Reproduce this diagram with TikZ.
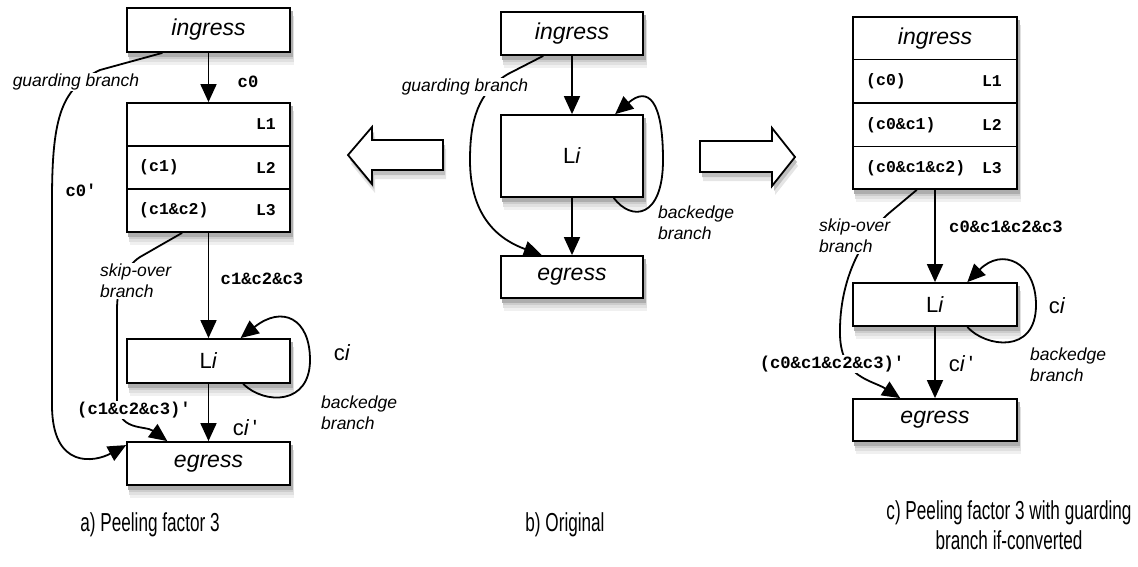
\documentclass[tikz,border=0pt]{standalone}
\usepackage{fontspec}
\setmainfont{Liberation Sans}
\setmonofont{Liberation Mono}
\newfontfamily\plainsf{Liberation Sans}
\newfontfamily\capfont[FakeStretch=0.66]{Liberation Sans}
\usetikzlibrary{arrows.meta,calc,backgrounds}
% layered grey rectangles under a node, offset down and to the right
\newcommand\dropshade[1]{%
  \fill[black!6]  ($(#1.north west)+(3.5,12)$) rectangle ($(#1.south east)+(3.5,12)$);
  \fill[black!12] ($(#1.north west)+(3,9)$)    rectangle ($(#1.south east)+(3,9)$);
  \fill[black!20] ($(#1.north west)+(2.5,6.5)$) rectangle ($(#1.south east)+(2.5,6.5)$);
  \fill[black!32] ($(#1.north west)+(2,4)$)    rectangle ($(#1.south east)+(2,4)$);}
% outline of the left-pointing hollow arrow
\newcommand\leftarrowshape{(348,155) -- (372,127) -- (372,140) -- (443,140) -- (443,170) -- (372,170) -- (372,184) -- cycle}
\newcommand\rightarrowshape{(795,157) -- (772,128) -- (772,141) -- (700,141) -- (700,172) -- (772,172) -- (772,186) -- cycle}
\begin{document}
\begin{tikzpicture}[x=1pt,y=-1pt,
  blk/.style={draw,line width=1.8pt,fill=white,inner sep=0pt},
  big/.style={font=\fontsize{23}{26}\selectfont\itshape},
  li/.style={font=\fontsize{22}{26}\selectfont},
  code/.style={font=\fontsize{17.2}{19}\selectfont\ttfamily\bfseries,inner sep=1pt},
  rowcode/.style={font=\fontsize{16.5}{19}\selectfont\ttfamily\bfseries,inner sep=0pt},
  note/.style={font=\fontsize{17.5}{21}\selectfont\itshape,align=left,inner sep=1pt},
  flow/.style={line width=1.8pt,-{Triangle[length=18pt,width=16pt]}},
  caption text/.style={font=\fontsize{26}{30}\selectfont\capfont,align=center},
  hollow/.style={draw,line width=1.8pt,fill=white,line join=miter},
  divider/.style={line width=1.8pt}
]
\useasboundingbox (0,0) rectangle (1138,566);

% ---------- a) peeling factor 3 ----------
\node[blk,minimum width=163pt,minimum height=44pt,big] (ingA) at (208.5,30) {ingress};
\node[blk,minimum width=163pt,minimum height=129pt] (stackA) at (208.5,167.5) {};
\draw[divider] ($(stackA.north west)!1/3!(stackA.south west)$) -- ($(stackA.north east)!1/3!(stackA.south east)$);
\draw[divider] ($(stackA.north west)!2/3!(stackA.south west)$) -- ($(stackA.north east)!2/3!(stackA.south east)$);
\node[rowcode,anchor=east] (a1) at (276,124.5) {L1};
\node[rowcode,anchor=east] (a2) at (276,167.5) {L2};
\node[rowcode,anchor=east] (a3) at (276,210.5) {L3};
\node[rowcode,anchor=west] (a2c) at (139,167.5) {(c1)};
\node[rowcode,anchor=west] (a3c) at (139,210.5) {(c1\&c2)};
\node[blk,minimum width=163pt,minimum height=44pt,li] (LA) at (208.5,361) {L\textit{i}};
\node[blk,minimum width=163pt,minimum height=43pt,big] (egA) at (208.5,463.5) {egress};

\draw[flow] (ingA) -- (stackA);
\node[code] (c0A) at (248,82) {c0};
\draw[flow] (stackA) -- (LA);
\node[code] (c123A) at (262,279) {c1\&c2\&c3};
\draw[flow] (LA) -- (egA);
\node[li] (cipA) at (245,428) {c\textit{i}\,{\plainsf'}};

% backedge loop
\draw[flow] ($(LA.south)!0.42!(LA.south east)$) .. controls (265,405) and (310,405) .. (310,360)
  .. controls (310,318) and (282,305) .. ($(LA.north)!0.39!(LA.north east)$);
\node[li] (ciA) at (342,353) {c\textit{i}};
\node[note,anchor=west] (beA) at (320,413) {backedge\\branch};

% guarding branch
\draw[flow] ($(ingA.south west)!0.22!(ingA.south east)$) -- (100,70) .. controls (62,88) and (52,115) .. (52,200)
  -- (52,405) .. controls (52,470) and (95,462) .. ($(egA.north west)+(0,4)$);
\node[note,fill=white] (gA) at (76,82) {guarding branch};
\node[code] (c0pA) at (81,190) {c0'};

% skip-over branch
\draw[flow] ($(stackA.south west)!0.34!(stackA.south east)$) -- (140,257) .. controls (125,267) and (117,285) .. (117,310)
  -- (117,400) .. controls (117,432) and (145,425) .. ($(egA.north west)!0.25!(egA.north east)$);
\node[note,fill=white,anchor=west] (skA) at (99,281) {skip-over\\branch};
\node[code,fill=white] (cpA) at (134,410) {(c1\&c2\&c3)'};

% ---------- transformation arrows ----------
\fill[black!10] [shift={(3,9)}] \leftarrowshape;
\fill[black!25] [shift={(2,5)}] \leftarrowshape;
\draw[hollow] \leftarrowshape;
\fill[black!10] [shift={(3,9)}] \rightarrowshape;
\fill[black!25] [shift={(2,5)}] \rightarrowshape;
\draw[hollow] \rightarrowshape;

% ---------- b) original ----------
\node[blk,minimum width=142pt,minimum height=43pt,big] (ingB) at (572,33.5) {ingress};
\node[blk,minimum width=142pt,minimum height=82pt,li] (LB) at (572,156) {L\textit{i}};
\node[blk,minimum width=142pt,minimum height=42pt,big] (egB) at (572,277) {egress};
\draw[flow] (ingB) -- (LB);
\draw[flow] (LB) -- (egB);
\draw[flow] ($(LB.south)!0.58!(LB.south east)$) .. controls (632,222) and (663,218) .. (663,160)
  .. controls (663,100) and (648,86) .. ($(LB.north)!0.6!(LB.north east)$);
\node[note,anchor=west] (beB) at (657,223) {backedge\\branch};
\draw[flow] ($(ingB.south west)!0.3!(ingB.south east)$) -- (508,74) .. controls (478,92) and (470,120) .. (470,160)
  .. controls (470,218) and (500,240) .. ($(egB.north west)!0.29!(egB.north east)$);
\node[note,fill=white] (gB) at (465,87) {guarding branch};

% ---------- c) peeling with if-converted guard ----------
\node[blk,minimum width=164pt,minimum height=172pt] (stackC) at (935,103) {};
\foreach \f in {0.25,0.5,0.75}
  \draw[divider] ($(stackC.north west)!\f!(stackC.south west)$) -- ($(stackC.north east)!\f!(stackC.south east)$);
\node[big] (ingC) at (935,38.5) {ingress};
\node[rowcode,anchor=west] (c1c) at (866,81.5) {(c0)};
\node[rowcode,anchor=east] (c1) at (1002,81.5) {L1};
\node[rowcode,anchor=west] (c2c) at (866,125) {(c0\&c1)};
\node[rowcode,anchor=east] (c2) at (1002,125) {L2};
\node[rowcode,anchor=west] (c3c) at (866,168) {(c0\&c1\&c2)};
\node[rowcode,anchor=east] (c3) at (1002,168) {L3};
\node[blk,minimum width=164pt,minimum height=43pt,li] (LC) at (935,304.5) {L\textit{i}};
\node[blk,minimum width=164pt,minimum height=42pt,big] (egC) at (935,420) {egress};

\draw[flow] (stackC) -- (LC);
\node[code] (c0123C) at (1006,227) {c0\&c1\&c2\&c3};
\draw[flow] (LC) -- (egC);
\node[li] (cipC) at (961,364) {c\textit{i}\,{\plainsf'}};
\draw[flow] ($(LC.south)!0.39!(LC.south east)$) .. controls (985,347) and (1036,355) .. (1036,305)
  .. controls (1036,262) and (1002,247) .. ($(LC.north)!0.39!(LC.north east)$);
\node[li] (ciC) at (1057,306) {c\textit{i}};
\node[note,anchor=west] (beC) at (1029,365) {backedge\\branch};
\draw[flow] ($(stackC.south west)!0.39!(stackC.south east)$) -- (888,214) .. controls (858,242) and (839,285) .. (840,335)
  .. controls (841,378) and (872,380) .. ($(egC.north west)!0.29!(egC.north east)$);
\node[note,fill=white,anchor=west] (skC) at (818,236) {skip-over\\branch};
\node[code,fill=white] (cpC) at (832,364) {(c0\&c1\&c2\&c3)'};

% ---------- drop shadows of the boxes ----------
\begin{pgfonlayer}{background}
  \foreach \b in {ingA,stackA,LA,egA,ingB,LB,egB,stackC,LC,egC}
    {\dropshade{\b}}
\end{pgfonlayer}

% ---------- captions ----------
\node[caption text] (capA) at (150,525) {a) Peeling factor 3};
\node[caption text] (capB) at (565,525) {b) Original};
\node[caption text] (capC) at (1009,525) {c) Peeling factor 3 with guarding\\branch if-converted};
\end{tikzpicture}
\end{document}
